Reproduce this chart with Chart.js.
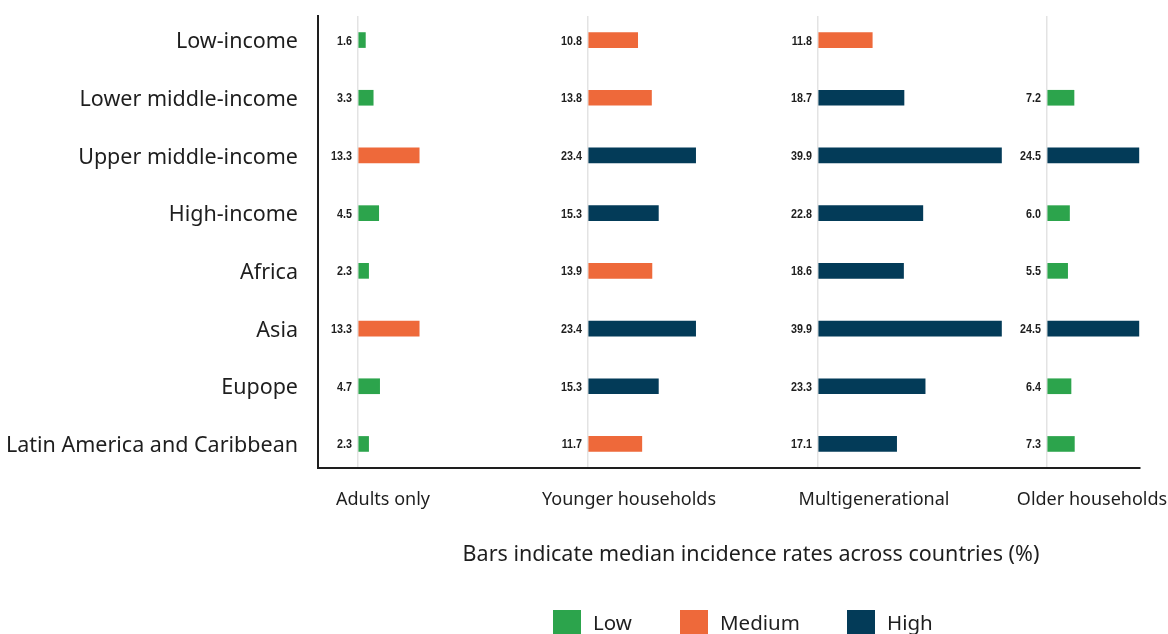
<!DOCTYPE html>
<html>
<head>
<meta charset="utf-8">
<title>Median incidence rates by household type</title>
<script src="https://cdn.jsdelivr.net/npm/chart.js@4.4.1/dist/chart.umd.min.js"></script>
<style>
    html, body { margin: 0; padding: 0; background: #fff; }
    #wrap { width: 1168px; height: 634px; position: relative; }
</style>
</head>
<body>
<div id="wrap"><canvas id="chart"></canvas></div>
<script>
// ---- data ----
var CATEGORIES = ["Low-income", "Lower middle-income", "Upper middle-income", "High-income",
    "Africa", "Asia", "Eupope", "Latin America and Caribbean"];
var PANELS = ["Adults only", "Younger households", "Multigenerational", "Older households"];

var ADULTS_ONLY   = [1.6, 3.3, 13.3, 4.5, 2.3, 13.3, 4.7, 2.3];
var YOUNGER_HH    = [10.8, 13.8, 23.4, 15.3, 13.9, 23.4, 15.3, 11.7];
var MULTIGEN      = [11.8, 18.7, 39.9, 22.8, 18.6, 39.9, 23.3, 17.1];
var OLDER_HH      = [null, 7.2, 24.5, 6.0, 5.5, 24.5, 6.4, 7.3];

var ADULTS_LEVEL  = ["Low", "Low", "Medium", "Low", "Low", "Medium", "Low", "Low"];
var YOUNGER_LEVEL = ["Medium", "Medium", "High", "High", "Medium", "High", "High", "Medium"];
var MULTIGEN_LEVEL = ["Medium", "High", "High", "High", "High", "High", "High", "High"];
var OLDER_LEVEL   = [null, "Low", "High", "Low", "Low", "High", "Low", "Low"];

var LEVELS = ["Low", "Medium", "High"];
var CHART_TITLE = "Bars indicate median incidence rates across countries (%)";

// ---- styling ----
var LEVEL_COLORS = { Low: "#2ca44c", Medium: "#ee693a", High: "#033b58" };
var TEXT_FONT = "'Noto Sans', 'Open Sans', sans-serif";
var VALUE_FONT = "bold 12.5px 'Liberation Sans', Arial, sans-serif";
var TITLE_OFFSETS = [25, 41, 56, 45];   // panel title centre, px right of each zero line

function makeDataset(values, levels, axisId) {
    return {
        data: values.map(function(v, i) { return { x: v, y: i }; }),
        backgroundColor: levels.map(function(l) { return l ? LEVEL_COLORS[l] : "transparent"; }),
        xAxisID: axisId,
        grouped: false,
        barThickness: 15,
        borderWidth: 0
    };
}

function panelAxis(min, max, weight) {
    return {
        type: "linear",
        position: "bottom",
        stack: "panels",
        stackWeight: weight,
        min: min,
        max: max,
        afterBuildTicks: function(s) { s.ticks = [{ value: 0 }]; },
        afterFit: function(s) { s.height = 166; },
        ticks: { display: false },
        grid: { color: "#e3e3e3", lineWidth: 1.5, drawTicks: false },
        border: { color: "#1e1e1e", width: 2 }
    };
}

// value labels left of each bar, panel titles, chart title and legend
var annotations = {
    id: "annotations",
    afterDatasetsDraw: function(chart) {
        var ctx = chart.ctx;
        ctx.save();
        ctx.font = VALUE_FONT;
        ctx.fillStyle = "#1e1e1e";
        ctx.textAlign = "right";
        ctx.textBaseline = "middle";
        chart.data.datasets.forEach(function(ds, di) {
            var meta = chart.getDatasetMeta(di);
            var zero = chart.scales[ds.xAxisID].getPixelForValue(0);
            meta.data.forEach(function(bar, i) {
                var v = ds.data[i].x;
                if (v === null) return;
                // squeeze horizontally to mimic a condensed face
                ctx.save();
                ctx.translate(zero - 6, bar.y + 1);
                ctx.scale(0.86, 1);
                ctx.fillText(v.toFixed(1), 0, 0);
                ctx.restore();
            });
        });
        ctx.restore();
    },
    afterDraw: function(chart) {
        var ctx = chart.ctx;
        ctx.save();
        ctx.fillStyle = "#1e1e1e";
        ctx.textBaseline = "middle";
        ctx.textAlign = "center";
        ctx.font = "18px " + TEXT_FONT;
        ["xA", "xY", "xM", "xO"].forEach(function(id, k) {
            var zero = chart.scales[id].getPixelForValue(0);
            ctx.fillText(PANELS[k], zero + TITLE_OFFSETS[k], 500);
        });

        ctx.font = "21.5px " + TEXT_FONT;
        ctx.fillText(CHART_TITLE, 751, 555);

        // legend
        var lx = [553, 680, 847];
        ctx.textAlign = "left";
        ctx.font = "20.5px " + TEXT_FONT;
        LEVELS.forEach(function(l, k) {
            ctx.fillStyle = LEVEL_COLORS[l];
            ctx.fillRect(lx[k], 610, 28, 24);
            ctx.fillStyle = "#1e1e1e";
            ctx.fillText(l, lx[k] + 40, 624);
        });
        ctx.restore();
    }
};

new Chart(document.getElementById("chart"), {
    type: "bar",
    data: {
        datasets: [
            makeDataset(ADULTS_ONLY, ADULTS_LEVEL, "xA"),
            makeDataset(YOUNGER_HH, YOUNGER_LEVEL, "xY"),
            makeDataset(MULTIGEN, MULTIGEN_LEVEL, "xM"),
            makeDataset(OLDER_HH, OLDER_LEVEL, "xO")
        ]
    },
    options: {
        indexAxis: "y",
        responsive: true,
        maintainAspectRatio: false,
        animation: false,
        layout: { padding: { top: 16, right: 28, bottom: 0, left: 0 } },
        plugins: { legend: { display: false }, tooltip: { enabled: false } },
        scales: {
            y: {
                type: "linear",
                reverse: true,
                offset: false,
                min: -0.417,
                max: 7.417,
                afterBuildTicks: function(s) {
                    s.ticks = CATEGORIES.map(function(c, i) { return { value: i }; });
                },
                afterFit: function(s) {
                    s.width = 318;
                    s.paddingTop = 0;
                    s.paddingBottom = 0;
                },
                ticks: {
                    padding: 20,
                    labelOffset: 2,
                    color: "#1e1e1e",
                    font: { family: TEXT_FONT, size: 21.5 },
                    callback: function(v) { return CATEGORIES[v]; }
                },
                grid: { display: false, drawTicks: false, offset: false },
                border: { color: "#1e1e1e", width: 2 }
            },
            xA: panelAxis(-8.7, 50, 270),
            xY: panelAxis(0, 50, 230),
            xM: panelAxis(0, 49.8, 229),
            xO: panelAxis(0, 24.8, 93)
        }
    },
    plugins: [annotations]
});
</script>
</body>
</html>
